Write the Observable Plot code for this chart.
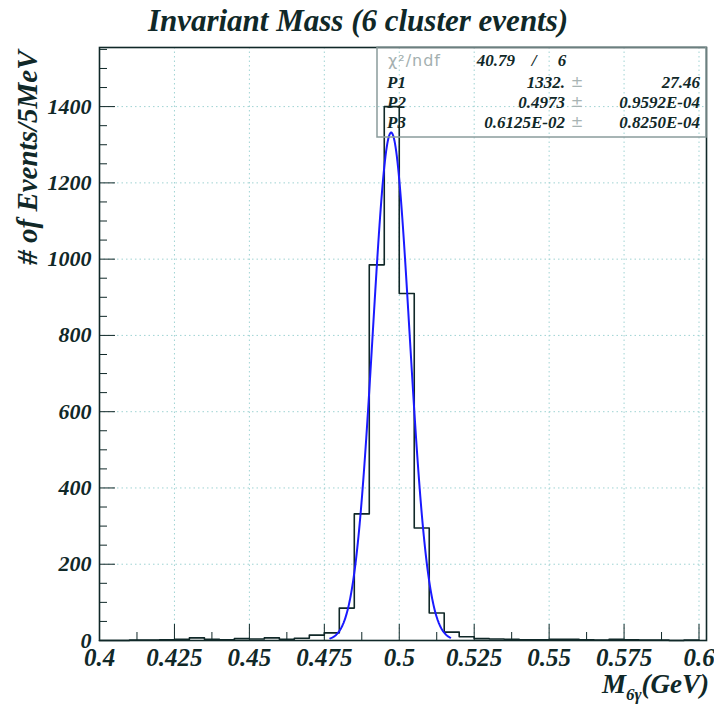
<!DOCTYPE html>
<html><head><meta charset="utf-8">
<script src="https://cdn.jsdelivr.net/npm/d3@7"></script>
<script src="https://cdn.jsdelivr.net/npm/@observablehq/plot@0.6"></script>
<style>body{margin:0;background:#fff;} #chart svg{display:block;}</style>
</head><body><div id="chart"></div>
<script>
// ---- data ----
const titleText = "Invariant Mass (6 cluster events)";
const yLabelText = "# of Events/5MeV";
const binLow = [0.400,0.405,0.410,0.415,0.420,0.425,0.430,0.435,0.440,0.445,
                0.450,0.455,0.460,0.465,0.470,0.475,0.480,0.485,0.490,0.495,
                0.500,0.505,0.510,0.515,0.520,0.525,0.530,0.535,0.540,0.545,
                0.550,0.555,0.560,0.565,0.570,0.575,0.580,0.585,0.590,0.595];
const counts = [0,0,1,1,2,3,7,3,2,5,
                4,7,3,6,14,20,85,332,985,1400,
                910,295,72,22,10,5,4,3,2,2,
                3,3,2,1,3,2,1,1,0,1];
const histEnd = 0.600;
const fitNames = ["P1","P2","P3"];
const fitValues = [1332, 0.4973, 0.006125];
const fitRange = [0.477, 0.517];
const xTicks = [0.4,0.425,0.45,0.475,0.5,0.525,0.55,0.575,0.6];
const xTickLabels = ["0.4","0.425","0.45","0.475","0.5","0.525","0.55","0.575","0.6"];
const xMinorTicks = [0.4125,0.4375,0.4625,0.4875,0.5125,0.5375,0.5625,0.5875];
const yTicks = [0,200,400,600,800,1000,1200,1400];
const yTickLabels = ["0","200","400","600","800","1000","1200","1400"];
const yMinorTicks = [50,100,150,250,300,350,450,500,550,650,700,750,850,900,950,1050,1100,1150,1250,1300,1350,1450,1500,1550];
const statsLabels = ["χ²/ndf","P1","P2","P3"];
const statsValues = ["40.79","1332.","0.4973","0.6125E-02"];
const statsErrors = ["6","27.46","0.9592E-04","0.8250E-04"];

// ---- derived tables ----
const histPts = binLow.map((x, i) => ({x, y: counts[i]}));
histPts.push({x: histEnd, y: counts[counts.length - 1]});
const [A, mu, sig] = fitValues;
const fitPts = d3.range(0, 201).map(k => {
  const x = fitRange[0] + (fitRange[1] - fitRange[0]) * k / 200;
  return {x, y: A * Math.exp(-0.5 * ((x - mu) / sig) ** 2)};
});

const serif = "'Liberation Serif','Times New Roman',serif";
const sans = "'DejaVu Sans','Liberation Sans',sans-serif";
const ink = "#102828";
const gridColor = "#9fd3d3";
const bold = {fontFamily: serif, fontWeight: "bold", fontStyle: "italic", fill: ink};

function dimsOf(args) { return args.find(a => a && a.marginLeft !== undefined && a.width !== undefined); }

function addText(g, x, y, str, anchor, opts) {
  const t = g.append("text").attr("x", x).attr("y", y).attr("dy", "0.35em").attr("text-anchor", anchor);
  if (opts.serif) {
    t.attr("font-family", serif).attr("font-weight", "bold").attr("font-style", "italic")
     .attr("font-size", opts.size || 17).attr("fill", ink);
  } else {
    t.attr("font-family", sans).attr("font-size", opts.size || 15).attr("fill", opts.fill || "#9aa8a8");
    if (opts.spacing) t.attr("letter-spacing", opts.spacing);
  }
  t.text(str);
  return t;
}

// stats box (transparent, outlined)
function statsBox(...args) {
  const d = dimsOf(args);
  const right = d.width - d.marginRight;
  const g = d3.create("svg:g");
  g.append("rect").attr("x", right - 329).attr("y", d.marginTop).attr("width", 329).attr("height", 90)
    .attr("fill", "none").attr("stroke", "#8a9c9c").attr("stroke-width", 1.5);
  const rowsY = [60.5, 82, 102, 122];
  statsLabels.forEach((lab, i) => {
    const y = rowsY[i];
    if (i === 0) {
      addText(g, right - 318, y, lab, "start", {serif: false, size: 16, spacing: 1, fill: "#a4b0b0"});
      addText(g, right - 191, y, statsValues[i], "end", {serif: true});
      addText(g, right - 172, y, "/", "middle", {serif: true});
      addText(g, right - 144, y, statsErrors[i], "middle", {serif: true});
    } else {
      addText(g, right - 319, y, lab, "start", {serif: true});
      addText(g, right - 141, y, statsValues[i], "end", {serif: true});
      addText(g, right - 129, y, "±", "middle", {serif: false, size: 15, fill: "#a8b4b4"});
      addText(g, right - 6, y, statsErrors[i], "end", {serif: true});
    }
  });
  return g.node();
}

// x-axis title with subscript
function xTitle(...args) {
  const d = dimsOf(args);
  const t = d3.create("svg:text").attr("x", d.width - d.marginRight + 3).attr("y", 693)
    .attr("text-anchor", "end").attr("font-family", serif).attr("font-weight", "bold")
    .attr("font-style", "italic").attr("font-size", 27).attr("fill", ink);
  t.append("tspan").text("M");
  t.append("tspan").attr("font-size", 17).attr("dy", 7).text("6γ");
  t.append("tspan").attr("dy", -7).text("(GeV)");
  return t.node();
}

const innerW = 714 - 99 - 8, innerH = 710 - 47 - 70;

const chart = Plot.plot({
  width: 714, height: 710,
  marginTop: 47, marginLeft: 99, marginRight: 8, marginBottom: 70,
  x: {domain: [0.4, 0.6025], axis: null},
  y: {domain: [0, 1555], axis: null},
  style: {background: "white", overflow: "visible"},
  marks: [
    Plot.gridX(xTicks.slice(1), {stroke: gridColor, strokeOpacity: 1, strokeWidth: 1, strokeDasharray: "1.5,3"}),
    Plot.gridY(yTicks.slice(1), {stroke: gridColor, strokeOpacity: 1, strokeWidth: 1, strokeDasharray: "1.5,3"}),
    Plot.ruleX(xTicks, {x: d => d, insetTop: innerH - 16, stroke: ink, strokeWidth: 1}),
    Plot.ruleX(xMinorTicks, {x: d => d, insetTop: innerH - 8, stroke: ink, strokeWidth: 1}),
    Plot.ruleY(yTicks, {y: d => d, insetRight: innerW - 16, stroke: ink, strokeWidth: 1}),
    Plot.ruleY(yMinorTicks, {y: d => d, insetRight: innerW - 8, stroke: ink, strokeWidth: 1}),
    Plot.line(histPts, {x: "x", y: "y", curve: "step-after", stroke: ink, strokeWidth: 1.6}),
    Plot.line(fitPts, {x: "x", y: "y", curve: "linear", stroke: "#1a1aff", strokeWidth: 2}),
    Plot.frame({stroke: ink, strokeWidth: 1.6}),
    Plot.text(xTicks, {x: d => d, text: (d, i) => xTickLabels[i], frameAnchor: "bottom", lineAnchor: "middle", dy: 17, fontSize: 25, ...bold}),
    Plot.text(yTicks, {y: d => d, text: (d, i) => yTickLabels[i], frameAnchor: "left", lineAnchor: "middle", dx: -8, textAnchor: "end", fontSize: 22, ...bold}),
    Plot.text([titleText], {text: d => d, frameAnchor: "top", lineAnchor: "middle", dx: -45, dy: -26, fontSize: 31, ...bold}),
    Plot.text([yLabelText], {text: d => d, frameAnchor: "top-left", lineAnchor: "middle", dx: -72, dy: 3, rotate: -90, textAnchor: "end", fontSize: 29, ...bold}),
    statsBox,
    xTitle
  ]
});
document.getElementById("chart").appendChild(chart);
</script>
</body></html>
